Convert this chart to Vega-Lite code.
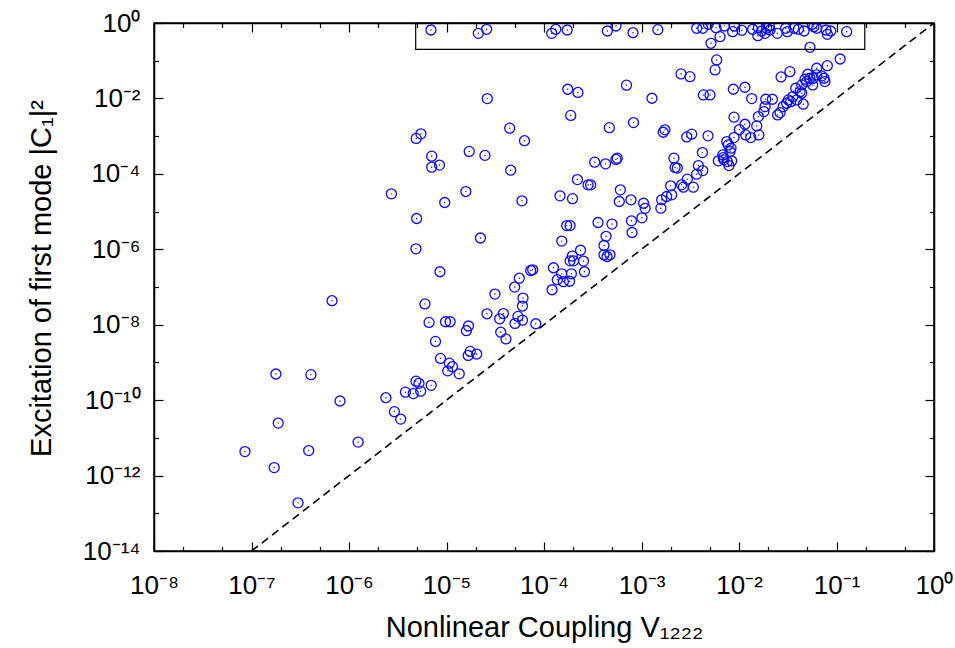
{
  "$schema": "https://vega.github.io/schema/vega-lite/v6.json",
  "width": 780,
  "height": 528,
  "autosize": {"type": "none"},
  "padding": {"left": 154, "top": 23, "right": 21, "bottom": 97},
  "background": "white",
  "config": {
    "view": {"stroke": "black", "strokeWidth": 1.5},
    "axis": {
      "labelFont": "Liberation Sans",
      "titleFont": "Liberation Sans",
      "labelColor": "black",
      "titleColor": "black",
      "tickColor": "black",
      "domainColor": "black",
      "domainWidth": 1.5,
      "tickWidth": 1.2,
      "grid": false,
      "labelOverlap": false,
      "labelFlush": false,
      "titleFontWeight": "normal"
    }
  },
  "datasets": {
    "pts": [
      {"V":8.57e-8,"C":4.33e-12},{"V":1.71e-7,"C":1.63e-12},{"V":1.78e-7,"C":4.94e-10},{"V":1.88e-7,"C":2.46e-11},
      {"V":3.0e-7,"C":1.89e-13},{"V":3.86e-7,"C":4.59e-12},{"V":4.07e-7,"C":4.73e-10},{"V":8.09e-7,"C":9.5e-11},
      {"V":1.24e-6,"C":7.71e-12},{"V":2.39e-6,"C":1.16e-10},{"V":2.92e-6,"C":4.95e-11},{"V":3.39e-6,"C":3.14e-11},
      {"V":3.79e-6,"C":1.63e-10},{"V":4.56e-6,"C":1.49e-10},{"V":4.86e-6,"C":3.18e-10},{"V":5.22e-6,"C":2.79e-10},
      {"V":5.43e-6,"C":1.73e-10},{"V":6.97e-6,"C":2.47e-10},{"V":7.71e-6,"C":3.61e-9},{"V":8.67e-6,"C":1.28e-9},
      {"V":1.07e-5,"C":9.55e-10},{"V":1.15e-5,"C":7.71e-10},{"V":1.03e-5,"C":5.97e-10},{"V":1.35e-5,"C":4.98e-10},
      {"V":1.60e-5,"C":6.93e-9},{"V":1.68e-5,"C":9.25e-9},{"V":1.75e-5,"C":1.96e-9},{"V":1.67e-5,"C":1.53e-9},
      {"V":2.04e-5,"C":1.67e-9},{"V":6.62e-6,"C":1.15e-8},{"V":9.77e-6,"C":1.20e-8},{"V":1.09e-5,"C":1.20e-8},
      {"V":6.01e-6,"C":3.56e-8},{"V":6.70e-7,"C":4.33e-8},{"V":8.57e-6,"C":2.54e-7},{"V":4.86e-6,"C":1.03e-6},
      {"V":4.94e-6,"C":6.55e-6},{"V":2.72e-6,"C":2.95e-5},{"V":9.59e-6,"C":1.74e-5},{"V":1.58e-5,"C":3.40e-5},
      {"V":7.05e-6,"C":2.94e-4},{"V":7.05e-6,"C":1.50e-4},{"V":8.47e-6,"C":1.71e-4},{"V":1.71e-5,"C":3.94e-4},
      {"V":4.89e-6,"C":8.71e-4},{"V":5.47e-6,"C":1.15e-3},{"V":2.23e-5,"C":1.99e-6},{"V":2.62e-5,"C":9.89e-3},
      {"V":2.48e-5,"C":3.09e-4},{"V":4.45e-5,"C":1.63e-3},{"V":6.31e-5,"C":7.57e-4},{"V":4.55e-5,"C":1.25e-4},
      {"V":5.94e-5,"C":1.93e-5},{"V":1.75e-4,"C":1.75e-2},{"V":2.23e-4,"C":1.44e-2},{"V":7.02e-4,"C":2.25e-2},
      {"V":1.88e-4,"C":3.55e-3},{"V":8.28e-4,"C":2.29e-3},{"V":4.68e-4,"C":1.68e-3},{"V":3.31e-4,"C":2.04e-4},
      {"V":4.28e-4,"C":1.84e-4},{"V":5.47e-4,"C":2.42e-4},{"V":5.64e-4,"C":2.61e-4},{"V":2.20e-4,"C":7.06e-5},
      {"V":2.83e-4,"C":5.12e-5},{"V":3.01e-4,"C":5.12e-5},{"V":1.46e-4,"C":2.61e-5},{"V":1.96e-4,"C":2.20e-5},
      {"V":6.07e-4,"C":3.77e-5},{"V":5.92e-4,"C":1.85e-5},{"V":7.80e-4,"C":2.05e-5},{"V":1.05e-3,"C":1.66e-5},
      {"V":1.71e-4,"C":4.25e-6},{"V":1.85e-4,"C":4.25e-6},{"V":3.58e-4,"C":5.13e-6},{"V":4.98e-4,"C":4.66e-6},
      {"V":7.89e-4,"C":5.69e-6},{"V":8.0e-4,"C":2.79e-6},{"V":4.33e-4,"C":2.21e-6},{"V":1.52e-4,"C":1.65e-6},
      {"V":4.12e-4,"C":1.26e-6},{"V":2.37e-4,"C":9.42e-7},{"V":1.95e-4,"C":6.61e-7},{"V":1.85e-4,"C":4.95e-7},
      {"V":2.01e-4,"C":4.95e-7},{"V":2.54e-4,"C":4.87e-7},{"V":4.12e-4,"C":7.15e-7},{"V":4.75e-4,"C":7.15e-7},
      {"V":4.43e-4,"C":6.44e-7},{"V":1.25e-4,"C":3.24e-7},{"V":2.60e-4,"C":2.54e-7},{"V":1.52e-4,"C":2.24e-7},
      {"V":1.91e-4,"C":2.24e-7},{"V":7.66e-5,"C":2.86e-7},{"V":7.31e-5,"C":2.74e-7},{"V":1.37e-4,"C":1.56e-7},
      {"V":1.58e-4,"C":1.38e-7},{"V":1.83e-4,"C":1.42e-7},{"V":1.21e-4,"C":8.45e-8},{"V":5.58e-5,"C":1.71e-7},
      {"V":5.0e-5,"C":9.97e-8},{"V":3.14e-5,"C":6.50e-8},{"V":6.09e-5,"C":5.09e-8},{"V":6.01e-5,"C":3.13e-8},
      {"V":2.60e-5,"C":1.95e-8},{"V":3.83e-5,"C":1.98e-8},{"V":3.51e-5,"C":1.43e-8},{"V":5.41e-5,"C":1.66e-8},
      {"V":6.01e-5,"C":1.32e-8},{"V":5.04e-5,"C":1.08e-8},{"V":8.24e-5,"C":1.06e-8},{"V":3.60e-5,"C":6.33e-9},
      {"V":4.07e-5,"C":4.21e-9},{"V":1.09e-3,"C":1.22e-5},{"V":1.01e-3,"C":6.83e-6},{"V":1.58e-3,"C":1.23e-5},
      {"V":1.61e-3,"C":2.05e-5},{"V":1.81e-3,"C":2.51e-5},{"V":2.04e-3,"C":2.78e-5},{"V":1.99e-3,"C":4.81e-5},
      {"V":2.58e-3,"C":5.12e-5},{"V":2.69e-3,"C":4.44e-5},{"V":3.40e-3,"C":4.44e-5},{"V":2.95e-3,"C":7.24e-5},
      {"V":3.68e-3,"C":9.82e-5},{"V":4.25e-3,"C":1.22e-4},{"V":3.83e-3,"C":1.66e-4},{"V":2.21e-3,"C":1.47e-4},
      {"V":2.33e-3,"C":1.42e-4},{"V":2.15e-3,"C":2.61e-4},{"V":4.21e-3,"C":3.66e-4},{"V":6.14e-3,"C":2.21e-4},
      {"V":7.02e-3,"C":2.35e-4},{"V":7.59e-3,"C":2.12e-4},{"V":8.41e-3,"C":2.21e-4},{"V":7.89e-3,"C":1.66e-4},
      {"V":6.90e-3,"C":2.70e-4},{"V":6.81e-3,"C":3.18e-4},{"V":8.09e-3,"C":3.90e-4},{"V":8.28e-3,"C":4.80e-4},
      {"V":7.76e-3,"C":5.86e-4},{"V":7.48e-3,"C":7.18e-4},{"V":8.89e-3,"C":9.16e-4},{"V":1.17e-2,"C":1.08e-3},
      {"V":1.32e-2,"C":9.16e-4},{"V":1.60e-2,"C":1.08e-3},{"V":1.52e-2,"C":1.87e-3},{"V":1.01e-2,"C":1.49e-3},
      {"V":1.15e-2,"C":2.07e-3},{"V":8.89e-3,"C":3.18e-3},{"V":1.58e-2,"C":3.30e-3},{"V":1.80e-2,"C":4.47e-3},
      {"V":1.85e-2,"C":6.07e-3},{"V":1.88e-2,"C":9.52e-3},{"V":2.20e-2,"C":9.52e-3},{"V":2.49e-2,"C":3.66e-3},
      {"V":2.64e-2,"C":4.21e-3},{"V":2.84e-2,"C":6.07e-3},{"V":3.08e-2,"C":7.46e-3},{"V":3.21e-2,"C":9.12e-3},
      {"V":3.39e-2,"C":8.22e-3},{"V":3.56e-2,"C":1.12e-2},{"V":3.91e-2,"C":9.12e-3},{"V":3.82e-2,"C":1.86e-2},
      {"V":4.23e-2,"C":1.51e-2},{"V":4.40e-2,"C":1.37e-2},{"V":4.56e-2,"C":7.02e-3},{"V":4.40e-2,"C":2.28e-2},
      {"V":4.94e-2,"C":2.79e-2},{"V":4.75e-2,"C":3.23e-2},{"V":5.70e-2,"C":2.28e-2},{"V":5.78e-2,"C":3.43e-2},
      {"V":5.35e-2,"C":3.43e-2},{"V":5.07e-2,"C":4.38e-2},{"V":6.27e-2,"C":6.31e-2},{"V":6.27e-2,"C":4.20e-2},
      {"V":7.05e-2,"C":3.94e-2},{"V":7.45e-2,"C":3.43e-2},{"V":7.62e-2,"C":2.79e-2},{"V":8.05e-2,"C":7.39e-2},
      {"V":0.109,"C":0.111},{"V":3.33e-2,"C":5.13e-2},{"V":2.70e-2,"C":3.71e-2},{"V":1.35e-2,"C":9.89e-3},
      {"V":1.15e-2,"C":1.98e-2},{"V":8.75e-3,"C":1.75e-2},{"V":4.31e-3,"C":1.24e-2},{"V":5.04e-3,"C":1.24e-2},
      {"V":5.90e-3,"C":0.105},{"V":5.68e-3,"C":5.69e-2},{"V":2.54e-3,"C":4.46e-2},{"V":3.14e-3,"C":3.78e-2},
      {"V":1.28e-3,"C":1.01e-2},{"V":1.74e-3,"C":1.47e-3},{"V":1.67e-3,"C":1.27e-3},{"V":2.91e-3,"C":9.55e-4},
      {"V":3.27e-3,"C":1.13e-3},{"V":4.81e-3,"C":1.02e-3},
      {"V":6.93e-6,"C":0.653},{"V":2.12e-5,"C":0.533},{"V":2.58e-5,"C":0.681},{"V":1.20e-4,"C":0.533},
      {"V":1.32e-4,"C":0.681},{"V":1.73e-4,"C":0.653},{"V":4.46e-4,"C":0.614},{"V":5.47e-4,"C":0.833},
      {"V":8.18e-4,"C":0.553},{"V":1.47e-3,"C":0.665},{"V":3.68e-3,"C":0.724},{"V":4.25e-3,"C":0.724},
      {"V":4.84e-3,"C":0.924},{"V":5.81e-3,"C":0.750},{"V":5.16e-3,"C":0.290},{"V":6.38e-3,"C":0.434},
      {"V":7.07e-3,"C":0.833},{"V":8.61e-3,"C":0.588},{"V":8.95e-3,"C":0.833},{"V":1.07e-2,"C":0.641},
      {"V":1.38e-2,"C":0.681},{"V":1.58e-2,"C":0.750},{"V":1.56e-2,"C":0.461},{"V":1.71e-2,"C":0.614},
      {"V":1.85e-2,"C":0.533},{"V":1.92e-2,"C":0.724},{"V":2.05e-2,"C":0.833},{"V":2.08e-2,"C":0.653},
      {"V":2.47e-2,"C":0.533},{"V":3.01e-2,"C":0.724},{"V":3.13e-2,"C":0.588},{"V":3.66e-2,"C":0.724},
      {"V":4.06e-2,"C":0.681},{"V":4.65e-2,"C":0.614},{"V":5.65e-2,"C":0.924},{"V":5.87e-2,"C":0.798},
      {"V":6.27e-2,"C":0.724},{"V":7.80e-2,"C":0.653},{"V":8.05e-2,"C":0.502},{"V":8.73e-2,"C":0.614},
      {"V":0.127,"C":0.588},{"V":5.35e-2,"C":0.227}
    ],
    "diag": [{"V": 1e-7, "C": 1e-14}, {"V": 1, "C": 1}],
    "box": [{"x1": 4.83e-6, "x2": 0.195, "y1": 0.2, "y2": 1}]
  },
  "layer": [
    {
      "data": {"name": "pts"},
      "mark": {"type": "point", "shape": "circle", "size": 100, "filled": false, "color": "#0a0aff", "strokeWidth": 1.3, "opacity": 1, "clip": true},
      "encoding": {
        "x": {
          "field": "V", "type": "quantitative",
          "scale": {"type": "log", "domain": [1e-8, 1], "nice": false},
          "axis": {
            "orient": "bottom",
            "values": [1e-8,2e-8,5e-8,1e-7,2e-7,5e-7,1e-6,2e-6,5e-6,1e-5,2e-5,5e-5,1e-4,2e-4,5e-4,1e-3,2e-3,5e-3,1e-2,2e-2,5e-2,1e-1,2e-1,5e-1,1],
            "labelExpr": "abs(log(datum.value)/LN10 - round(log(datum.value)/LN10)) < 0.01 ? '10' + replace(replace(replace(replace(replace(replace(replace(replace(replace(replace(replace('' + round(log(datum.value)/LN10), '-', '⁻'), '0', '⁰'), '1', '¹'), '2', '²'), '3', '³'), '4', '⁴'), '5', '⁵'), '6', '⁶'), '7', '⁷'), '8', '⁸'), '9', '⁹') : ''",
            "tickSize": {"condition": {"test": "abs(log(datum.value)/LN10 - round(log(datum.value)/LN10)) < 0.01", "value": -9}, "value": -4.5},
            "labelFontSize": 26,
            "labelPadding": 30,
            "title": "Nonlinear Coupling V₁₂₂₂",
            "titleFontSize": 29,
            "titleY": 85,
            "titleBaseline": "alphabetic"
          }
        },
        "y": {
          "field": "C", "type": "quantitative",
          "scale": {"type": "log", "domain": [1e-14, 1], "nice": false},
          "axis": {
            "orient": "left",
            "values": [1e-14,1e-13,1e-12,1e-11,1e-10,1e-9,1e-8,1e-7,1e-6,1e-5,1e-4,1e-3,1e-2,1e-1,1],
            "labelExpr": "abs(round(log(datum.value)/LN10) % 2) < 0.5 ? '10' + replace(replace(replace(replace(replace(replace(replace(replace(replace(replace(replace('' + round(log(datum.value)/LN10), '-', '⁻'), '0', '⁰'), '1', '¹'), '2', '²'), '3', '³'), '4', '⁴'), '5', '⁵'), '6', '⁶'), '7', '⁷'), '8', '⁸'), '9', '⁹') : ''",
            "tickSize": {"condition": {"test": "abs(round(log(datum.value)/LN10) % 2) < 0.5", "value": -9}, "value": -4.5},
            "labelFontSize": 26,
            "labelPadding": 23,
            "title": "Excitation of first mode |C₁|²",
            "titleFontSize": 29,
            "titleX": -113,
            "titleY": 255,
            "titleBaseline": "middle"
          }
        }
      }
    },
    {
      "data": {"name": "pts"},
      "mark": {"type": "point", "shape": "circle", "size": 2, "filled": true, "color": "#0000ff", "opacity": 1, "clip": true},
      "encoding": {
        "x": {"field": "V", "type": "quantitative", "axis": null},
        "y": {"field": "C", "type": "quantitative", "axis": null}
      }
    },
    {
      "data": {"name": "box"},
      "mark": {"type": "rect", "fill": "white", "fillOpacity": 0, "stroke": "black", "strokeWidth": 1.2},
      "encoding": {
        "x": {"field": "x1", "type": "quantitative", "axis": null},
        "x2": {"field": "x2"},
        "y": {"field": "y1", "type": "quantitative", "axis": null},
        "y2": {"field": "y2"}
      }
    },
    {
      "data": {"name": "diag"},
      "mark": {"type": "line", "color": "black", "strokeDash": [8, 5], "strokeWidth": 1.6, "clip": true},
      "encoding": {
        "x": {
          "field": "V", "type": "quantitative",
          "axis": {
            "orient": "top",
            "values": [1e-8,2e-8,5e-8,1e-7,2e-7,5e-7,1e-6,2e-6,5e-6,1e-5,2e-5,5e-5,1e-4,2e-4,5e-4,1e-3,2e-3,5e-3,1e-2,2e-2,5e-2,1e-1,2e-1,5e-1,1],
            "labels": false,
            "title": null,
            "tickSize": {"condition": {"test": "abs(log(datum.value)/LN10 - round(log(datum.value)/LN10)) < 0.01", "value": -9}, "value": -4.5}
          }
        },
        "y": {
          "field": "C", "type": "quantitative",
          "axis": {
            "orient": "right",
            "values": [1e-14,1e-13,1e-12,1e-11,1e-10,1e-9,1e-8,1e-7,1e-6,1e-5,1e-4,1e-3,1e-2,1e-1,1],
            "labels": false,
            "title": null,
            "tickSize": {"condition": {"test": "abs(round(log(datum.value)/LN10) % 2) < 0.5", "value": -9}, "value": -4.5}
          }
        }
      }
    }
  ],
  "resolve": {"axis": {"x": "independent", "y": "independent"}}
}
